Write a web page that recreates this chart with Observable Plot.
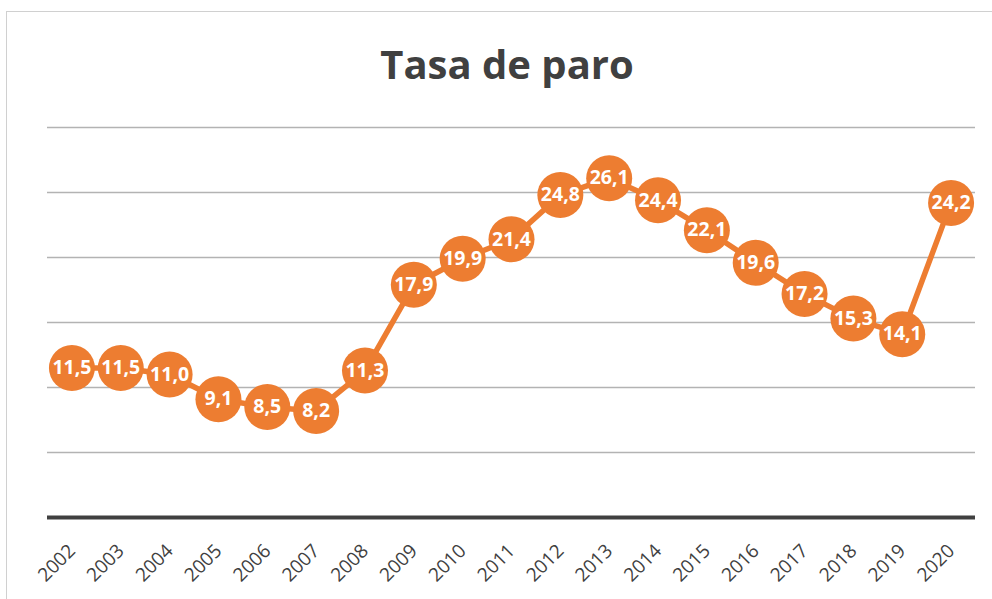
<!DOCTYPE html>
<html>
<head>
<meta charset="utf-8">
<script src="https://cdn.jsdelivr.net/npm/d3@7"></script>
<script src="https://cdn.jsdelivr.net/npm/@observablehq/plot@0.6"></script>
<style>
  html, body { margin: 0; padding: 0; background: #fff; overflow: hidden; }
  #wrap { position: relative; width: 992px; height: 599px; overflow: hidden; }
  #border { position: absolute; left: 6px; top: 11px; width: 1100px; height: 700px; border: 1px solid #d0d0d0; box-sizing: border-box; }
  #title { position: absolute; left: 0; top: 36px; width: 1014px; text-align: center;
           font-family: "Open Sans", sans-serif; font-weight: 700; font-size: 40px; color: #404040; line-height: 56px; }
  #chart { position: absolute; left: 0; top: 0; }
</style>
</head>
<body>
<div id="wrap">
  <div id="border"></div>
  <div id="chart"></div>
  <div id="title">Tasa de paro</div>
</div>
<script>
const years = [2002, 2003, 2004, 2005, 2006, 2007, 2008, 2009, 2010, 2011, 2012, 2013, 2014, 2015, 2016, 2017, 2018, 2019, 2020];
const rates = [11.5, 11.5, 11.0, 9.1, 8.5, 8.2, 11.3, 17.9, 19.9, 21.4, 24.8, 26.1, 24.4, 22.1, 19.6, 17.2, 15.3, 14.1, 24.2];
const gridValues = [5, 10, 15, 20, 25, 30];

const data = years.map((y, i) => ({year: y, rate: rates[i]}));
const fmt = v => v.toFixed(1).replace(".", ",");
const orange = "#ED7D31";

const chart = Plot.plot({
  width: 992,
  height: 599,
  marginTop: 127,
  marginBottom: 82,
  marginLeft: 47,
  marginRight: 17,
  style: {background: "transparent", fontFamily: "Open Sans, sans-serif"},
  x: {domain: [2001.5, 2020.5], axis: null},
  y: {domain: [0, 30], axis: null},
  marks: [
    Plot.ruleY(gridValues, {stroke: "#b3b3b3", strokeWidth: 1.3}),
    Plot.ruleY([0], {stroke: "#404040", strokeWidth: 4}),
    Plot.text(years, {
      x: d => d, text: d => String(d), frameAnchor: "bottom", rotate: -45,
      textAnchor: "end", lineAnchor: "top", dx: -5, dy: 25,
      fontSize: 19, fill: "#404040", fontFamily: "Open Sans, sans-serif"
    }),
    Plot.line(data, {x: "year", y: "rate", stroke: orange, strokeWidth: 5.5, strokeLinejoin: "round"}),
    Plot.dot(data, {x: "year", y: "rate", r: 23, fill: orange, stroke: null}),
    Plot.text(data, {x: "year", y: "rate", text: d => fmt(d.rate), fill: "white",
      fontSize: 19.5, fontWeight: 700, fontFamily: "Open Sans, sans-serif"})
  ]
});
document.getElementById("chart").appendChild(chart);
</script>
</body>
</html>
